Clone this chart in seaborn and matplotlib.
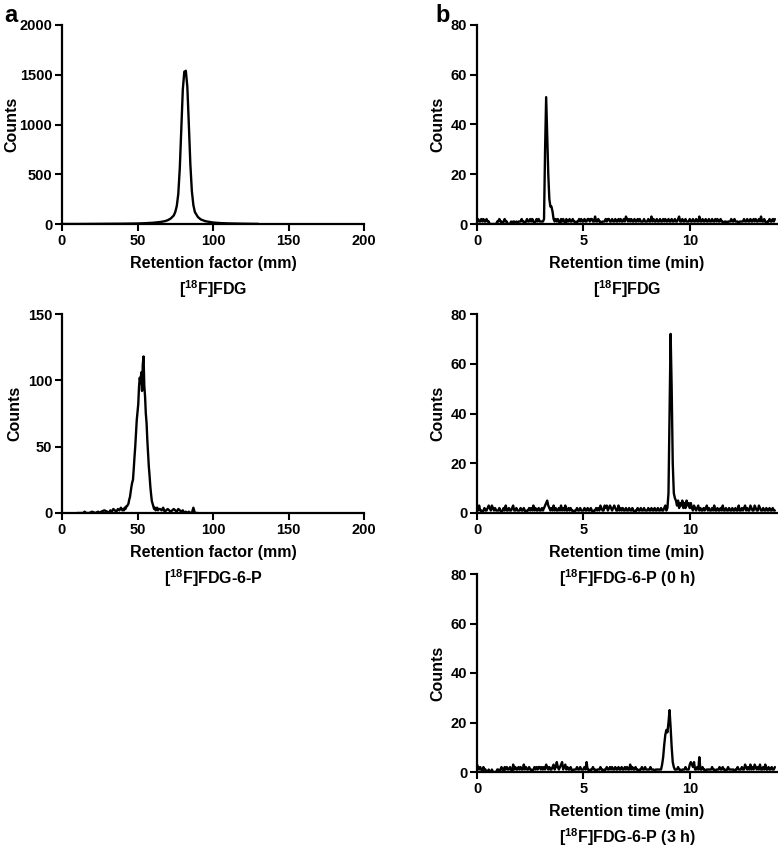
import numpy as np
import pandas as pd
import matplotlib
matplotlib.use("Agg")
import matplotlib.pyplot as plt
import seaborn as sns

# ---- panel a: radio-TLC traces (retention factor in mm) ----
fdg_tlc_pos = [0, 10, 20, 30, 40, 50, 55, 60, 65, 68, 70, 72, 74, 75, 76, 77, 78, 79,
               80, 81, 82, 83, 84, 85, 86, 87, 88, 90, 92, 95, 100, 105, 110, 120, 130]
fdg_tlc_counts = [0, 0, 1, 2, 3, 5, 8, 12, 20, 28, 38, 55, 85, 120, 180, 300, 560, 950,
                  1350, 1530, 1540, 1380, 1000, 600, 330, 190, 120, 70, 45, 28, 15, 9, 6, 3, 1]

fdg6p_tlc_pos = ([10, 12, 14, 15, 16, 18, 20, 22, 24, 25, 26, 28, 30, 31, 32, 33, 34, 35,
                  36, 37, 38, 39]
                 + [40, 40.5, 41, 41.5, 42, 42.5, 43, 43.5, 44, 44.5, 45, 45.5, 46, 46.5,
                    47, 47.5, 48, 48.5, 49, 49.5, 50, 50.5, 51, 51.5, 52, 52.5, 53, 53.5,
                    54, 54.5, 55, 55.5, 56, 56.5, 57, 57.5, 58, 58.5, 59, 59.5, 60, 60.5,
                    61, 61.5, 62, 62.5, 63, 63.5, 64]
                 + [65, 66, 67, 68, 69, 70, 71, 72, 73, 74, 75, 76, 77, 78, 79, 80, 81,
                    82, 83, 84, 85, 86, 87, 88, 90])
fdg6p_tlc_counts = ([0, 0, 0, 1, 0, 0, 1, 0, 1, 0, 1, 2, 1, 0, 2, 1, 3, 2, 1, 3, 2, 4]
                    + [2, 3, 2, 4, 3, 5, 5, 6, 7, 10, 12, 16, 20, 23, 25, 33, 42, 50, 60,
                       70, 76, 82, 95, 102, 98, 106, 92, 112, 118, 96, 88, 75, 68, 55, 45,
                       35, 28, 20, 14, 9, 7, 5, 3, 4, 2, 3, 4, 2, 3]
                    + [3, 2, 4, 1, 2, 3, 2, 1, 2, 3, 2, 1, 3, 2, 1, 2, 0, 1, 0, 1, 0, 0,
                       4, 0, 0])

# ---- panel b: radio-HPLC traces, one value every 0.05 min ----
hplc_step = 0.05
fdg_hplc = [
    1, 2, 1, 1, 2, 1, 2, 1, 1, 2, 1, 1, 0, 0, 0, 0, 0, 0, 0, 1,
    1, 2, 1, 1, 0, 1, 2, 1, 1, 0, 0, 0, 1, 0, 1, 1, 0, 1, 0, 1,
    1, 1, 2, 1, 1, 0, 1, 2, 1, 1, 2, 1, 2, 1, 0, 1, 2, 1, 2, 1,
    1, 1, 1, 2, 30, 51, 35, 20, 10, 7, 7, 5, 2, 1, 2, 1, 2, 1, 0, 2,
    1, 2, 1, 0, 2, 1, 1, 2, 1, 1, 2, 1, 1, 0, 1, 1, 2, 1, 2, 1,
    1, 2, 1, 1, 2, 2, 1, 2, 2, 1, 1, 3, 1, 1, 2, 1, 1, 0, 1, 1,
    1, 2, 1, 2, 2, 1, 1, 2, 1, 1, 2, 1, 1, 2, 1, 2, 1, 1, 2, 1,
    3, 2, 1, 2, 1, 2, 1, 1, 2, 1, 1, 2, 1, 2, 1, 1, 1, 2, 1, 1,
    1, 2, 1, 1, 3, 1, 2, 1, 1, 2, 1, 1, 2, 1, 1, 2, 1, 2, 1, 1,
    2, 1, 1, 2, 1, 1, 2, 1, 1, 2, 3, 1, 1, 2, 1, 1, 2, 1, 1, 1,
    2, 1, 1, 2, 1, 1, 2, 1, 1, 3, 1, 1, 2, 1, 1, 2, 1, 1, 2, 1,
    1, 2, 1, 1, 2, 1, 2, 1, 1, 2, 1, 1, 0, 1, 1, 0, 1, 1, 1, 2,
    1, 1, 2, 1, 1, 1, 0, 1, 1, 1, 1, 2, 1, 1, 2, 1, 1, 2, 1, 1,
    2, 1, 2, 1, 1, 2, 1, 3, 1, 1, 2, 1, 0, 1, 1, 2, 1, 1, 2, 1, 2,
]
fdg6p_0h_hplc = [
    2, 1, 3, 1, 1, 0, 1, 2, 1, 1, 2, 3, 2, 1, 3, 2, 1, 2, 1, 1,
    1, 2, 1, 0, 1, 2, 1, 3, 1, 1, 2, 1, 1, 2, 3, 1, 1, 2, 1, 1,
    1, 2, 1, 1, 2, 1, 0, 1, 1, 2, 1, 2, 1, 3, 1, 2, 1, 1, 2, 1,
    1, 2, 1, 2, 3, 4, 5, 3, 2, 1, 2, 1, 3, 1, 2, 1, 1, 2, 1, 3,
    1, 2, 1, 3, 1, 1, 2, 1, 2, 1, 1, 0, 1, 1, 2, 1, 1, 2, 1, 1,
    1, 2, 1, 1, 2, 1, 1, 2, 1, 0, 1, 1, 2, 1, 2, 1, 3, 2, 1, 1,
    3, 2, 3, 1, 2, 3, 2, 1, 2, 3, 2, 1, 1, 3, 1, 2, 1, 2, 1, 1,
    2, 1, 1, 2, 1, 1, 2, 1, 0, 1, 1, 2, 1, 1, 2, 1, 1, 2, 1, 1,
    1, 2, 1, 1, 2, 1, 1, 2, 1, 1, 2, 1, 1, 2, 1, 1, 2, 3, 1, 2,
    8, 40, 72, 50, 20, 8, 6, 5, 3, 5, 2, 4, 3, 5, 2, 4, 2, 5, 3, 4,
    2, 4, 2, 1, 3, 2, 1, 2, 3, 1, 2, 1, 1, 2, 1, 2, 3, 1, 2, 1,
    1, 2, 1, 3, 1, 1, 2, 1, 1, 2, 1, 3, 1, 1, 2, 1, 1, 2, 1, 1,
    2, 1, 1, 2, 1, 1, 3, 1, 1, 2, 1, 2, 3, 1, 2, 1, 1, 3, 2, 1,
    1, 3, 2, 1, 1, 3, 2, 1, 1, 2, 1, 1, 2, 1, 1, 2, 1, 1, 2, 1, 1,
]
fdg6p_3h_hplc = [
    3, 2, 1, 2, 1, 0, 2, 1, 1, 0, 0, 1, 0, 0, 1, 0, 0, 0, 0, 1,
    1, 0, 1, 2, 1, 0, 2, 1, 2, 1, 1, 2, 1, 0, 3, 1, 2, 1, 1, 2,
    1, 2, 1, 1, 3, 1, 2, 1, 1, 2, 1, 1, 0, 1, 2, 1, 2, 1, 2, 2,
    1, 2, 1, 2, 1, 3, 2, 1, 2, 1, 1, 2, 3, 1, 2, 4, 2, 1, 2, 3,
    4, 1, 2, 3, 1, 2, 1, 1, 2, 1, 0, 1, 1, 1, 2, 1, 1, 2, 1, 1,
    1, 2, 1, 4, 1, 1, 0, 1, 1, 2, 1, 1, 0, 1, 1, 1, 2, 1, 1, 0,
    1, 1, 2, 1, 1, 2, 1, 2, 1, 1, 2, 1, 1, 2, 1, 1, 2, 1, 1, 2,
    1, 2, 1, 1, 3, 1, 2, 1, 1, 2, 1, 1, 0, 1, 1, 2, 1, 1, 2, 1,
    1, 1, 1, 2, 1, 1, 1, 0, 1, 1, 1, 1, 1, 1, 3, 6, 11, 15, 17, 16,
    20, 25, 18, 10, 4, 2, 1, 1, 1, 2, 1, 1, 0, 1, 1, 1, 2, 1, 1, 1,
    3, 4, 3, 2, 4, 1, 1, 2, 1, 6, 1, 1, 2, 1, 1, 0, 1, 1, 1, 1,
    1, 2, 1, 1, 0, 1, 1, 1, 2, 1, 1, 2, 1, 1, 0, 1, 2, 1, 1, 1,
    1, 1, 0, 1, 1, 2, 1, 1, 1, 2, 1, 1, 3, 2, 1, 2, 1, 3, 1, 2,
    1, 3, 2, 1, 2, 1, 3, 1, 1, 2, 1, 3, 1, 1, 2, 1, 1, 2, 1, 1, 2,
]

sns.set_style("ticks")
plt.rcParams["font.family"] = ["Liberation Sans", "DejaVu Sans"]
plt.rcParams["font.weight"] = "bold"
plt.rcParams["axes.labelweight"] = "bold"
plt.rcParams["text.color"] = "black"
plt.rcParams["axes.labelcolor"] = "black"
plt.rcParams["mathtext.fontset"] = "custom"
plt.rcParams["mathtext.rm"] = "Liberation Sans:bold"
plt.rcParams["mathtext.it"] = "Liberation Sans:bold"
plt.rcParams["mathtext.bf"] = "Liberation Sans:bold"

W, H = 778, 849
fig = plt.figure(figsize=(W / 100, H / 100), dpi=100)


def make_ax(x0, x1, top, bottom):
    ax = fig.add_axes([x0 / W, 1 - bottom / H, (x1 - x0) / W, (bottom - top) / H])
    ax.patch.set_visible(False)
    return ax


def style(ax, xlim, xticks, ylim, yticks, xlabel, sample, ypad=4):
    ax.set_xlim(*xlim)
    ax.set_ylim(*ylim)
    ax.set_xticks(xticks)
    ax.set_yticks(yticks)
    sns.despine(ax=ax)
    for s in ("left", "bottom"):
        ax.spines[s].set_linewidth(1.6)
        ax.spines[s].set_color("black")
    ax.tick_params(axis="both", direction="out", length=5, width=1.5, colors="black",
                   labelsize=10.5, pad=2)
    for lab in ax.get_xticklabels() + ax.get_yticklabels():
        lab.set_fontweight("bold")
    ax.set_xlabel(xlabel, fontsize=11.5, fontweight="bold", labelpad=6, color="black")
    ax.set_ylabel("Counts", fontsize=11.5, fontweight="bold", labelpad=ypad, color="black")
    ax.text(0.5, -0.275, sample, transform=ax.transAxes, ha="center", va="top",
            fontsize=11.5, fontweight="bold", color="black", zorder=10)


def trace(ax, x, y):
    df = pd.DataFrame({"x": x, "y": y})
    sns.lineplot(data=df, x="x", y="y", ax=ax, color="black", linewidth=1.7,
                 estimator=None, sort=False)


# panel a
ax1 = make_ax(62, 364, 25, 224)
trace(ax1, fdg_tlc_pos, fdg_tlc_counts)
style(ax1, (0, 200), [0, 50, 100, 150, 200], (0, 2000), [0, 500, 1000, 1500, 2000],
      "Retention factor (mm)", "[$^{18}$F]FDG", ypad=0)

ax2 = make_ax(62, 364, 314, 513)
trace(ax2, fdg6p_tlc_pos, fdg6p_tlc_counts)
style(ax2, (0, 200), [0, 50, 100, 150, 200], (0, 150), [0, 50, 100, 150],
      "Retention factor (mm)", "[$^{18}$F]FDG-6-P")

# panel b
hplc_sets = [
    (fdg_hplc, 25, 224, "[$^{18}$F]FDG"),
    (fdg6p_0h_hplc, 314, 513, "[$^{18}$F]FDG-6-P (0 h)"),
    (fdg6p_3h_hplc, 574, 772, "[$^{18}$F]FDG-6-P (3 h)"),
]
for counts, top, bottom, sample in hplc_sets:
    ax = make_ax(477, 777, top, bottom)
    t = np.arange(len(counts)) * hplc_step
    trace(ax, t, counts)
    style(ax, (0, 14.1), [0, 5, 10], (0, 80), [0, 20, 40, 60, 80],
          "Retention time (min)", sample)

fig.text(4 / W, 1 - 4 / H, "a", fontsize=17, fontweight="bold", va="top", ha="left")
fig.text(435 / W, 1 - 4 / H, "b", fontsize=17, fontweight="bold", va="top", ha="left")

fig.savefig("out.png", dpi=100)
